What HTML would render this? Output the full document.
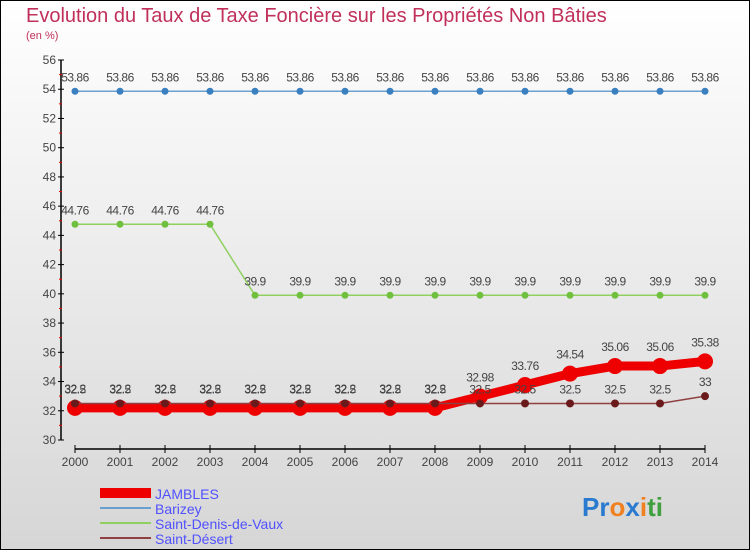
<!DOCTYPE html>
<html><head><meta charset="utf-8"><style>
body{margin:0;}
#wrap{width:750px;height:550px;position:relative;overflow:hidden;font-family:"Liberation Sans",sans-serif;}
</style></head><body>
<div id="wrap">
<svg id="chart" width="750" height="550" xmlns="http://www.w3.org/2000/svg">
<defs><linearGradient id="bg" x1="0" y1="0" x2="0" y2="1"><stop offset="0" stop-color="#ffffff"/><stop offset="1" stop-color="#d6d6d6"/></linearGradient></defs>
<rect x="0.5" y="0.5" width="749" height="549" fill="url(#bg)" stroke="#000"/>
<text x="26" y="22" font-size="20" fill="#c0305a">Evolution du Taux de Taxe Foncière sur les Propriétés Non Bâties</text>
<text x="26" y="39" font-size="11" fill="#c0305a">(en %)</text>
<g id="axes"></g>
<g id="series"></g>
<g id="legend"></g>
<text x="582" y="516" font-size="26" font-weight="bold"><tspan fill="#2a7bd0">Pr</tspan><tspan fill="#f08020">o</tspan><tspan fill="#2a7bd0">x</tspan><tspan fill="#f08020">i</tspan><tspan fill="#40a040">ti</tspan></text>
</svg>
</div>
<script>
const years=[2000,2001,2002,2003,2004,2005,2006,2007,2008,2009,2010,2011,2012,2013,2014];
const yTicks=[30,32,34,36,38,40,42,44,46,48,50,52,54,56];
const jambles=[32.2,32.2,32.2,32.2,32.2,32.2,32.2,32.2,32.2,32.98,33.76,34.54,35.06,35.06,35.38];
const barizey=[53.86,53.86,53.86,53.86,53.86,53.86,53.86,53.86,53.86,53.86,53.86,53.86,53.86,53.86,53.86];
const saintDenis=[44.76,44.76,44.76,44.76,39.9,39.9,39.9,39.9,39.9,39.9,39.9,39.9,39.9,39.9,39.9];
const saintDesert=[32.5,32.5,32.5,32.5,32.5,32.5,32.5,32.5,32.5,32.5,32.5,32.5,32.5,32.5,33];
const seriesNames=["JAMBLES","Barizey","Saint-Denis-de-Vaux","Saint-Désert"];
const NS="http://www.w3.org/2000/svg";
function X(i){return 75+i*(705-75)/(years.length-1);}
function Y(v){return 440-(v-30)*(380/26);}
function mk(tag,attrs,parent){const e=document.createElementNS(NS,tag);for(const k in attrs)e.setAttribute(k,attrs[k]);parent.appendChild(e);return e;}
const axes=document.getElementById('axes');
let l=mk('line',{x1:61,y1:60,x2:61,y2:440,stroke:'#000','stroke-width':1.5},axes);


l=mk('line',{x1:75,y1:449,x2:705,y2:449,stroke:'#000','stroke-width':1.5},axes);


yTicks.forEach(v=>{
 const y=Y(v);
 mk('line',{x1:58,y1:y,x2:64,y2:y,stroke:'#000'},axes);
 const t=mk('text',{x:56,y:y+4,'font-size':12,'text-anchor':'end',fill:'#444'},axes);
 t.textContent=v;
 
 
 if(v<56){const yy=Y(v+1);mk('line',{x1:59,y1:yy,x2:62,y2:yy,stroke:'#e00'},axes);}
});
years.forEach((yr,i)=>{
 const x=X(i);
 mk('line',{x1:x,y1:445,x2:x,y2:453,stroke:'#000'},axes);
 const t=mk('text',{x:x,y:466,'font-size':12,'text-anchor':'middle',fill:'#444'},axes);
 t.textContent=yr;
 
 
});
const sg=document.getElementById('series');
function fmt(v){return String(v);}
function drawSeries(vals,color,w,r,name,dotColor,off){
 const g=mk('g',{},sg);
 
 
 mk('polyline',{points:vals.map((v,i)=>X(i)+','+Y(v)).join(' '),fill:'none',stroke:color,'stroke-width':w},g);
 vals.forEach((v,i)=>{
  const c=mk('circle',{cx:X(i),cy:Y(v),r:r,fill:dotColor},g);
  
  
  const t=mk('text',{x:X(i),y:Y(v)-off,'font-size':12,'text-anchor':'middle',fill:'#444','letter-spacing':'-0.5'},g);
  t.textContent=fmt(v);
  
  
 });
}
drawSeries(barizey,'#6aa0d0',1.5,3.5,'series-barizey','#3a80c0',10);
drawSeries(saintDenis,'#90d060',1.5,3.5,'series-saint-denis-de-vaux','#70c040',10);
drawSeries(jambles,'#ee0000',9,8,'series-jambles','#ee0000',15);
drawSeries(saintDesert,'#904040',1.5,4,'series-saint-desert','#6a1a1a',10);
const lg=document.getElementById('legend');
const lcol=['#ee0000','#6aa0d0','#90d060','#904040'],lw=[10,2,2,2];
seriesNames.forEach((n,i)=>{
 const y=493+i*15;
 const ln=mk('line',{x1:100,y1:y,x2:151,y2:y,stroke:lcol[i],'stroke-width':lw[i]},lg);
 
 
 const t=mk('text',{x:155,y:y+6,'font-size':14,fill:'#5050ff'},lg);
 t.textContent=n;
 
 
});
</script>
</body></html>
